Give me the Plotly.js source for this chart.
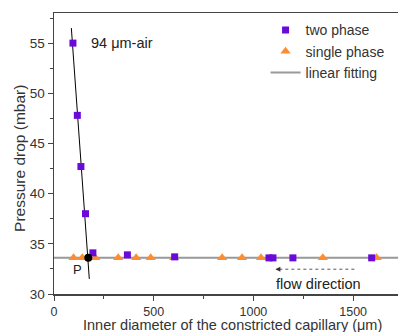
<!DOCTYPE html>
<html><head><meta charset="utf-8">
<script src="https://cdn.plot.ly/plotly-3.0.1.min.js"></script>
<style>html,body{margin:0;padding:0;background:#fff}#c{width:398px;height:332px}</style>
</head><body><div id="c"></div>
<script>
const twoX = [95, 117, 135, 158, 195, 368, 605, 1078, 1098, 1198, 1593];
const twoY = [55, 47.8, 42.7, 38, 34.1, 33.9, 33.7, 33.6, 33.6, 33.6, 33.6];
const singleX = [98, 142, 207, 322, 412, 485, 602, 843, 943, 1038, 1348, 1618];
const singleY = [33.6, 33.6, 33.6, 33.6, 33.6, 33.6, 33.6, 33.6, 33.6, 33.6, 33.6, 33.6];
const flatFitX = [0, 1725];
const flatFitY = [33.6, 33.6];
const steepFitX = [87, 177];
const steepFitY = [56.5, 31.5];
const pX = [172], pY = [33.6];
const xTickVals = [0, 500, 1000, 1500];
const yTickVals = [30, 35, 40, 45, 50, 55];

const font = 'Liberation Sans, Arial, sans-serif';
const traces = [
  {x: flatFitX, y: flatFitY, mode: 'lines', name: 'linear fitting', line: {color: '#999999', width: 2}, legendrank: 3},
  {x: steepFitX, y: steepFitY, mode: 'lines', showlegend: false, line: {color: '#000000', width: 1}},
  {x: singleX, y: singleY, mode: 'markers', name: 'single phase', marker: {symbol: 'triangle-up', size: 9, color: '#ff8c2e'}, legendrank: 2},
  {x: twoX, y: twoY, mode: 'markers', name: 'two phase', marker: {symbol: 'square', size: 7, color: '#6a0ad8'}, legendrank: 1},
  {x: pX, y: pY, mode: 'markers', showlegend: false, marker: {symbol: 'circle', size: 8, color: '#000000'}}
];
const layout = {
  width: 398, height: 332,
  margin: {l: 54, r: 0, t: 13, b: 38},
  paper_bgcolor: '#fff', plot_bgcolor: '#fff',
  font: {family: font, size: 13, color: '#333'},
  showlegend: true,
  legend: {x: 0.615, xanchor: 'left', y: 0.995, yanchor: 'top', bgcolor: 'rgba(0,0,0,0)', font: {size: 14, color: '#333'}, tracegroupgap: 0, itemwidth: 30},
  xaxis: {range: [0, 1725], showgrid: false, zeroline: false, showline: true, mirror: true, linecolor: '#444', linewidth: 1.5,
    ticks: 'outside', ticklen: 5, tickcolor: '#444', tickvals: xTickVals,
    minor: {ticks: 'outside', ticklen: 3, tickcolor: '#444', dtick: 250, showgrid: false},
    tickfont: {size: 12.5, color: '#333'}},
  yaxis: {range: [30, 58], showgrid: false, zeroline: false, showline: true, mirror: false, linecolor: '#444', linewidth: 1.5,
    ticks: 'outside', ticklen: 5, tickcolor: '#444', tickvals: yTickVals,
    minor: {ticks: 'outside', ticklen: 3, tickcolor: '#444', dtick: 2.5, showgrid: false},
    tickfont: {size: 13.5, color: '#333'}},
  annotations: [
    {xref: 'paper', yref: 'paper', x: 0.519, y: -0.11, text: 'Inner diameter of the constricted capillary (μm)', showarrow: false, xanchor: 'center', yanchor: 'middle', font: {size: 14.5, color: '#333'}},
    {xref: 'paper', yref: 'paper', x: -0.099, y: 0.484, text: 'Pressure drop (mbar)', textangle: -90, showarrow: false, xanchor: 'center', yanchor: 'middle', font: {size: 15.5, color: '#333'}},
    {x: 175, y: 55, text: '94 μm-air', showarrow: false, xanchor: 'left', yanchor: 'middle', font: {size: 14.5, color: '#222'}},
    {x: 118, y: 32.4, text: 'P', showarrow: false, xanchor: 'center', yanchor: 'middle', font: {size: 13, color: '#222'}},
    {x: 1325, y: 31.0, text: 'flow direction', showarrow: false, xanchor: 'center', yanchor: 'middle', font: {size: 14.5, color: '#222'}}
  ],
  shapes: [
    {type: 'line', x0: 1130, x1: 1515, y0: 32.47, y1: 32.47, line: {color: '#555', width: 1, dash: 'dot'}}
  ]
};
layout.annotations.push({x: 1110, y: 32.47, ax: 1135, ay: 32.47, axref: 'x', ayref: 'y', text: '', showarrow: true, arrowhead: 2, arrowsize: 1, arrowwidth: 1, arrowcolor: '#333'});
Plotly.newPlot('c', traces, layout, {displayModeBar: false, staticPlot: true});
</script></body></html>
